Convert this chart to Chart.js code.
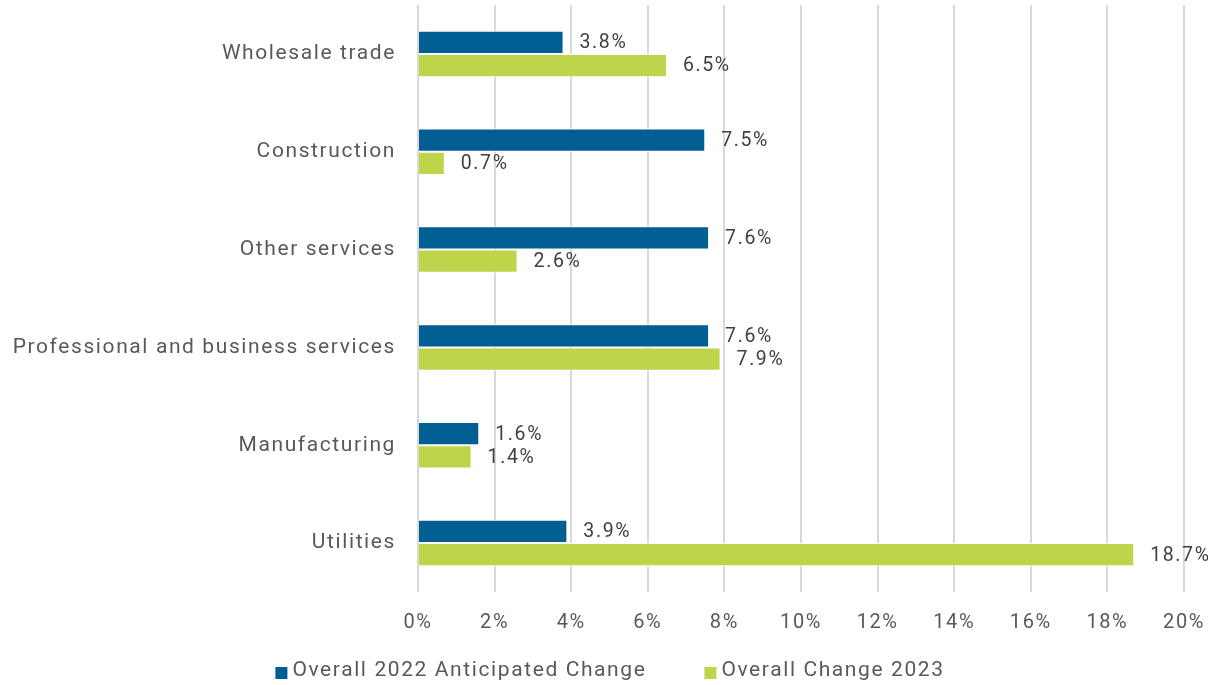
<!DOCTYPE html>
<html>
<head>
<meta charset="utf-8">
<script src="https://cdn.jsdelivr.net/npm/chart.js@4.4.0/dist/chart.umd.min.js"></script>
<style>
  html, body { margin: 0; padding: 0; background: #fff; }
  #wrap { width: 1208px; height: 685px; }
</style>
</head>
<body>
<div id="wrap"><canvas id="chart"></canvas></div>
<script>
const categories = ['Wholesale trade', 'Construction', 'Other services', 'Professional and business services', 'Manufacturing', 'Utilities']
const anticipated2022 = [3.8, 7.5, 7.6, 7.6, 1.6, 3.9]
const change2023 = [6.5, 0.7, 2.6, 7.9, 1.4, 18.7]
const seriesNames = ['Overall 2022 Anticipated Change', 'Overall Change 2023']

const FONT = 'Roboto'
const TEXT = '#595959'
const SPACING = '1.6px'

// wider letter spacing, closer to the original typeface
const spacing = {
  id: 'spacing',
  beforeUpdate(chart) { chart.ctx.letterSpacing = SPACING },
  beforeDraw(chart) { chart.ctx.letterSpacing = SPACING }
}

// draws the value next to each bar end
const valueLabels = {
  id: 'valueLabels',
  afterDatasetsDraw(chart) {
    const ctx = chart.ctx
    ctx.save()
    ctx.letterSpacing = SPACING
    ctx.font = `19.5px ${FONT}`
    ctx.fillStyle = '#404040'
    ctx.textAlign = 'left'
    ctx.textBaseline = 'middle'
    chart.data.datasets.forEach((ds, i) => {
      chart.getDatasetMeta(i).data.forEach((bar, j) => {
        ctx.fillText(ds.data[j].toFixed(1) + '%', bar.x + 16, bar.y + 1)
      })
    })
    ctx.restore()
  }
}

// simple legend under the axis
const bottomLegend = {
  id: 'bottomLegend',
  afterDraw(chart) {
    const ctx = chart.ctx
    const box = 12, gap = 5, between = 58
    ctx.save()
    ctx.letterSpacing = SPACING
    ctx.font = `21px ${FONT}`
    ctx.textBaseline = 'middle'
    ctx.textAlign = 'left'
    const items = chart.data.datasets.map(ds => ({
      text: ds.label, color: ds.backgroundColor, w: box + gap + ctx.measureText(ds.label).width
    }))
    const total = items.reduce((s, it) => s + it.w, 0) + between * (items.length - 1)
    let x = chart.width / 2 - total / 2 + 6
    const y = 671
    items.forEach(it => {
      ctx.fillStyle = it.color
      ctx.fillRect(x, y - 4, box, box)
      ctx.fillStyle = TEXT
      ctx.fillText(it.text, x + box + gap, y)
      x += it.w + between
    })
    ctx.restore()
  }
}

new Chart(document.getElementById('chart'), {
  type: 'bar',
  data: {
    labels: categories,
    datasets: [
      {
        label: seriesNames[0],
        data: anticipated2022,
        backgroundColor: '#005E92',
        borderColor: '#ffffff',
        borderWidth: 1,
        categoryPercentage: 0.475,
        barPercentage: 1
      },
      {
        label: seriesNames[1],
        data: change2023,
        backgroundColor: '#BED44B',
        borderColor: '#ffffff',
        borderWidth: 1,
        categoryPercentage: 0.475,
        barPercentage: 1
      }
    ]
  },
  options: {
    indexAxis: 'y',
    responsive: true,
    maintainAspectRatio: false,
    animation: false,
    layout: { padding: { top: 5, right: 24, left: 0, bottom: 43 } },
    plugins: {
      legend: { display: false },
      tooltip: { enabled: false }
    },
    scales: {
      x: {
        min: 0,
        max: 20,
        ticks: {
          stepSize: 2,
          padding: 19,
          color: TEXT,
          font: { family: FONT, size: 20 },
          callback: v => v + '%'
        },
        grid: { color: '#d9d9d9', lineWidth: 2, drawTicks: false },
        border: { display: false },
        afterFit: scale => {
          scale.height = 50
          scale.paddingLeft = 0
          scale.paddingRight = 0
        }
      },
      y: {
        ticks: {
          padding: 22,
          color: TEXT,
          font: { family: FONT, size: 21 }
        },
        grid: { display: false, drawTicks: false },
        border: { display: false },
        afterFit: scale => {
          scale.width = 418
          scale.paddingTop = 0
          scale.paddingBottom = 0
        }
      }
    }
  },
  plugins: [spacing, valueLabels, bottomLegend]
})
</script>
</body>
</html>
